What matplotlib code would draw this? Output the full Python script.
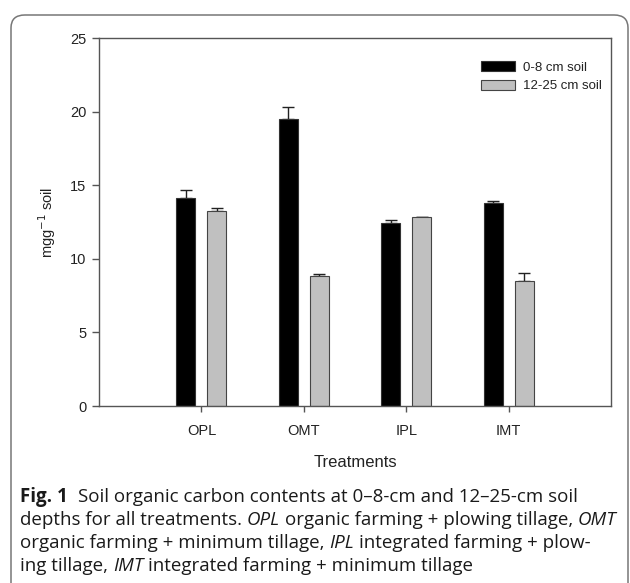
"""Soil organic carbon by treatment and depth (Fig. 1 recreation)."""

import matplotlib
matplotlib.use("Agg")
import matplotlib.pyplot as plt
import numpy as np
from matplotlib.patches import FancyBboxPatch

treatments = ["OPL", "OMT", "IPL", "IMT"]
depth_labels = ["0-8 cm soil", "12-25 cm soil"]
soc_0_8 = [14.15, 19.5, 12.45, 13.8]
err_0_8 = [0.5, 0.8, 0.2, 0.15]
soc_12_25 = [13.25, 8.85, 12.85, 8.5]
err_12_25 = [0.2, 0.12, 0.0, 0.55]

caption_lines = [
    [("Fig. 1", "bold"), ("Soil organic carbon contents at 0–8-cm and 12–25-cm soil", "normal")],
    [("depths for all treatments.", "normal"), ("OPL", "italic"),
     ("organic farming + plowing tillage,", "normal"), ("OMT", "italic")],
    [("organic farming + minimum tillage,", "normal"), ("IPL", "italic"),
     ("integrated farming + plow-", "normal")],
    [("ing tillage,", "normal"), ("IMT", "italic"),
     ("integrated farming + minimum tillage", "normal")],
]

W, H = 630, 583
DPI = 100
chart_font = "Liberation Sans"
cap_font = "Open Sans"


def draw_caption(fig, lines, x_px, y_px_list, size):
    renderer = fig.canvas.get_renderer()
    probe = fig.text(0, 0, "a a", fontsize=size, family=cap_font)
    w2 = probe.get_window_extent(renderer).width
    probe.set_text("aa")
    space = w2 - probe.get_window_extent(renderer).width
    probe.remove()
    for segs, y_px in zip(lines, y_px_list):
        x = x_px
        for text, style in segs:
            kw = dict(fontsize=size, family=cap_font, va="center", ha="left",
                      color="#1a1a1a")
            if style == "bold":
                kw["weight"] = "bold"
            elif style == "italic":
                kw["style"] = "italic"
            t = fig.text(x / W, 1 - y_px / H, text, **kw)
            x += t.get_window_extent(renderer).width
            x += space * (2.2 if style == "bold" else 1.0)


def main() -> None:
    fig = plt.figure(figsize=(W / DPI, H / DPI), dpi=DPI)
    ax = fig.add_axes([99 / W, 1 - 406 / H, 512 / W, 368 / H])

    pos = np.arange(len(treatments))
    width = 0.186
    off = 0.152
    ax.bar(pos - off, soc_0_8, width, color="black", edgecolor="#333333",
           linewidth=0.8, label=depth_labels[0], zorder=2)
    ax.bar(pos + off, soc_12_25, width, color="#c0c0c0", edgecolor="#444444",
           linewidth=0.8, label=depth_labels[1], zorder=2)
    zeros = [0] * len(treatments)
    ax.errorbar(pos - off, soc_0_8, yerr=[zeros, err_0_8], fmt="none",
                ecolor="#222222", elinewidth=1, capsize=4.5, capthick=1, zorder=1)
    ax.errorbar(pos + off, soc_12_25, yerr=[zeros, err_12_25], fmt="none",
                ecolor="#222222", elinewidth=1, capsize=4.5, capthick=1, zorder=1)

    ax.set_xlim(-1.0, 4.0)
    ax.set_ylim(0, 25)
    ax.set_yticks([0, 5, 10, 15, 20, 25])
    ax.set_xticks(pos)
    ax.set_xticklabels(treatments)
    for sp in ax.spines.values():
        sp.set_color("#555555")
        sp.set_linewidth(1)
    ax.tick_params(axis="both", direction="out", colors="#555555",
                   labelcolor="#222222", labelsize=10.5, width=1)
    ax.tick_params(axis="y", length=5, pad=4)
    ax.tick_params(axis="x", length=4, pad=9)
    for lab in ax.get_xticklabels() + ax.get_yticklabels():
        lab.set_family(chart_font)

    ax.set_xlabel("Treatments", family=chart_font, fontsize=12,
                  color="#222222", labelpad=12)
    ax.set_ylabel("mgg$^{-1}$ soil", family=chart_font, fontsize=10.5,
                  color="#222222", labelpad=9)

    leg = ax.legend(loc="upper left", bbox_to_anchor=(0.733, 0.955),
                    frameon=False, borderpad=0, handlelength=2.6,
                    handleheight=0.8, handletextpad=0.6, labelspacing=0.45,
                    prop={"family": chart_font, "size": 9.5})
    for t in leg.get_texts():
        t.set_color("#222222")

    border = FancyBboxPatch((11 / W, -20 / H), 617 / W, (H - 15 + 20) / H,
                            boxstyle="round,pad=0,rounding_size=0.022",
                            transform=fig.transFigure, facecolor="none",
                            edgecolor="#777777", linewidth=1.1, clip_on=False)
    fig.patches.append(border)

    draw_caption(fig, caption_lines, 20, [497, 520, 543, 566], 13.5)

    fig.savefig("out.png", dpi=DPI)


if __name__ == "__main__":
    main()
